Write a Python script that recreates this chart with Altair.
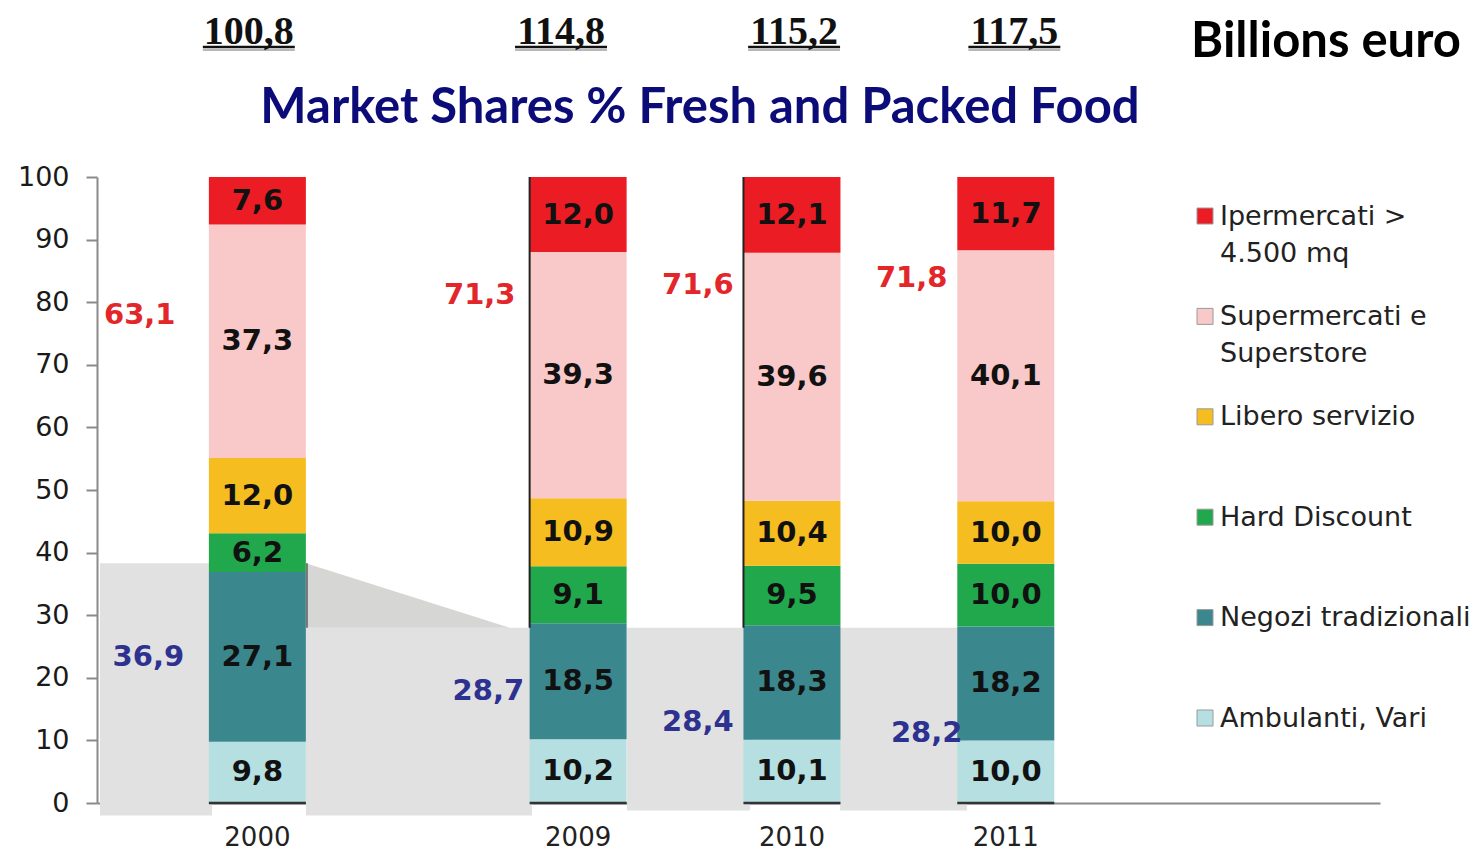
import altair as alt
import pandas as pd

# ---------------- data ----------------
years = ["2000", "2009", "2010", "2011"]
categories = [
    "Ambulanti, Vari",
    "Negozi tradizionali",
    "Hard Discount",
    "Libero servizio",
    "Supermercati e Superstore",
    "Ipermercati > 4.500 mq",
]
legend_labels = [
    "Ambulanti, Vari",
    "Negozi tradizionali",
    "Hard Discount",
    "Libero servizio",
    "Supermercati e\nSuperstore",
    "Ipermercati >\n4.500 mq",
]
ambulanti = [9.8, 10.2, 10.1, 10.0]
negozi = [27.1, 18.5, 18.3, 18.2]
hard_discount = [6.2, 9.1, 9.5, 10.0]
libero_servizio = [12.0, 10.9, 10.4, 10.0]
supermercati = [37.3, 39.3, 39.6, 40.1]
ipermercati = [7.6, 12.0, 12.1, 11.7]
modern_share = [63.1, 71.3, 71.6, 71.8]
traditional_share = [36.9, 28.7, 28.4, 28.2]
market_billions = [100.8, 114.8, 115.2, 117.5]
y_ticks = list(range(0, 101, 10))

title_text = "Market Shares % Fresh and Packed Food"
unit_text = "Billions euro"

# ---------------- layout / style ----------------
W, H = 1283, 626
X_MAX = 6.0
PX = W / X_MAX
UY = H / 100.0
slot = [0.75, 2.25, 3.25, 4.25]          # horizontal slot of each year's bar
HALF = 48.5 / PX                          # half bar width in x units
colors = ["#b5dfe0", "#3a878d", "#22a84c", "#f5bd1f", "#f9c8c8", "#ec1c24"]

red_dx = [-0.55, -0.46, -0.44, -0.44]
red_y = [78.0, 81.2, 82.7, 83.9]
blue_dx = [-0.51, -0.42, -0.44, -0.37]
blue_y = [23.3, 17.9, 12.9, 11.2]
total_dx = [-0.04, -0.08, 0.01, 0.04]

# decorative grey connector band (x, x2, y, y2 in scale units)
band_x = [0.014, 0.977, 2.479, 3.475]
band_x2 = [0.538, 2.034, 3.054, 4.069]
band_y = [-2.0, -2.0, -1.2, -1.2]
band_y2 = [38.3, 28.0, 28.0, 28.0]
trap_x = [0.977, 1.93]
trap_y = [38.3, 28.0]
# thin edge lines left over around the bars
edge_x = [slot[1] - HALF, slot[2] - HALF, slot[0] + HALF + 0.005]
edge_y = [28.0, 28.0, 28.0]
edge_y2 = [100.0, 100.0, 38.3]
edge_c = ["#222222", "#222222", "#777777"]

xs = alt.Scale(domain=[0, X_MAX], nice=False, zero=False)
ys = alt.Scale(domain=[0, 100], nice=False, zero=False)

FONT = "DejaVu Sans"

XA = alt.Axis(labels=False, ticks=False, grid=False, title=None,
              domainColor="#8a8a8a", domainWidth=2)
YA = alt.Axis(values=y_ticks, grid=False, title=None, labelFont=FONT,
              labelFontSize=27, labelColor="#1a1a1a", labelPadding=17,
              tickSize=11, tickColor="#8a8a8a", tickWidth=2,
              domainColor="#8a8a8a", domainWidth=2)


def X(field):
    return alt.X(field, scale=xs, axis=XA)


def Y(field):
    return alt.Y(field, scale=ys, axis=YA)


# ---------------- tables ----------------
series = [ambulanti, negozi, hard_discount, libero_servizio, supermercati, ipermercati]
rows = []
for i, yr in enumerate(years):
    for k, (cat, vals) in enumerate(zip(categories, series)):
        rows.append({"year": yr, "slot": slot[i], "category": cat, "k": k, "value": vals[i]})
df = pd.DataFrame(rows)

ann = pd.DataFrame({
    "year": years,
    "slot": slot,
    "modern": modern_share,
    "trad": traditional_share,
    "total": market_billions,
    "rdx": red_dx, "ry": red_y,
    "bdx": blue_dx, "by": blue_y,
    "tdx": total_dx,
    "zero": [0.0] * 4,
})

band = pd.DataFrame({"x": band_x, "x2": band_x2, "y": band_y, "y2": band_y2})
trap = pd.DataFrame({"x": trap_x, "y": trap_y, "y2": [28.0, 28.0]})
edges = pd.DataFrame({"x": edge_x, "y": edge_y, "y2": edge_y2, "c": edge_c})
leg = pd.DataFrame({"category": categories, "label": legend_labels, "k": list(range(6))})

# ---------------- layers ----------------
band_layer = alt.Chart(band).mark_rect(color="#e1e1e1").encode(
    x=X("x:Q"), x2="x2:Q", y=Y("y:Q"), y2="y2:Q",
)

trap_layer = alt.Chart(trap).mark_area(color="#d6d6d4").encode(
    x=X("x:Q"), y=Y("y:Q"), y2="y2:Q",
)

base = alt.Chart(df).transform_stack(
    stack="value", groupby=["year"], as_=["y0", "y1"],
    sort=[alt.SortField("k", order="ascending")],
).transform_calculate(
    xl=f"datum.slot - {HALF}",
    xr=f"datum.slot + {HALF}",
    ym="(datum.y0 + datum.y1) / 2",
    lab="replace(format(datum.value, '.1f'), '.', ',')",
)

bars = base.mark_rect().encode(
    x=X("xl:Q"), x2="xr:Q", y=Y("y0:Q"), y2="y1:Q",
    color=alt.Color("category:N", scale=alt.Scale(domain=categories, range=colors), legend=None),
)

bar_text = base.mark_text(font=FONT, fontSize=29, fontWeight="bold", color="#111111").encode(
    x=X("slot:Q"), y=Y("ym:Q"), text="lab:N",
)

edge_layer = alt.Chart(edges).mark_rule(strokeWidth=2).encode(
    x=X("x:Q"), y=Y("y:Q"), y2="y2:Q", color=alt.Color("c:N", scale=None),
)

abase = alt.Chart(ann).transform_calculate(
    rx="datum.slot + datum.rdx",
    bx="datum.slot + datum.bdx",
    tx="datum.slot + datum.tdx",
    ul="datum.slot + datum.tdx - 0.215",
    ur="datum.slot + datum.tdx + 0.215",
    bl=f"datum.slot - {HALF}",
    br=f"datum.slot + {HALF}",
    mlab="replace(format(datum.modern, '.1f'), '.', ',')",
    tlab="replace(format(datum.trad, '.1f'), '.', ',')",
    totlab="replace(format(datum.total, '.1f'), '.', ',')",
)

base_rules = abase.mark_rule(color="#333333", strokeWidth=2.5).encode(
    x=X("bl:Q"), x2="br:Q", y=Y("zero:Q"),
)

red_text = abase.mark_text(font=FONT, fontSize=29, fontWeight="bold", color="#e3262a").encode(
    x=X("rx:Q"), y=Y("ry:Q"), text="mlab:N",
)

blue_text = abase.mark_text(font=FONT, fontSize=29, fontWeight="bold", color="#2d3190").encode(
    x=X("bx:Q"), y=Y("by:Q"), text="tlab:N",
)

year_text = abase.mark_text(font=FONT, fontSize=26, color="#222222").encode(
    x=X("slot:Q"), y=alt.value(H + 35), text="year:N",
)

# market size in billions: baseline placed so the text box stays inside the canvas
total_text = abase.mark_text(font="Liberation Serif", fontSize=40, fontWeight="bold",
                             color="#111111", baseline="alphabetic").encode(
    x=X("tx:Q"), y=alt.value(-133), text="totlab:N",
)

total_shadow = abase.mark_rule(color="#b8b8b8", strokeWidth=2).encode(
    x=X("ul:Q"), x2="ur:Q", y=alt.value(-127),
)
total_underline = abase.mark_rule(color="#111111", strokeWidth=2.5).encode(
    x=X("ul:Q"), x2="ur:Q", y=alt.value(-130),
)

title_layer = alt.Chart(pd.DataFrame({"t": [title_text]})).mark_text(
    font="Lato", fontSize=49, fontWeight="bold", color="#0c0c78"
).encode(x=alt.value(603), y=alt.value(-69), text="t:N")

unit_layer = alt.Chart(pd.DataFrame({"t": [unit_text]})).mark_text(
    font="Lato", fontSize=49, fontWeight="bold", color="#000000", baseline="alphabetic"
).encode(x=alt.value(1229), y=alt.value(-120), text="t:N")

legbase = alt.Chart(leg).transform_calculate(
    ly=f"(587 - (5 - datum.k) * 100.4) / {UY}",
    ty=f"(587 - (5 - datum.k) * 100.4 + 12.5) / {UY}",
)
leg_sym = legbase.mark_square(size=256, strokeWidth=1, stroke="#9a9a9a", opacity=1).encode(
    x=alt.value(1108),
    y=Y("ly:Q"),
    fill=alt.Color("category:N", scale=alt.Scale(domain=categories, range=colors), legend=None),
)
leg_txt = legbase.mark_text(font=FONT, fontSize=27, align="left", baseline="top",
                            lineBreak="\n", lineHeight=37, color="#222222").encode(
    x=alt.value(1123),
    y=Y("ty:Q"),
    text="label:N",
)

chart = alt.layer(
    band_layer, trap_layer, bars, edge_layer, base_rules, bar_text, red_text, blue_text,
    year_text, total_shadow, total_underline, total_text, title_layer, unit_layer,
    leg_sym, leg_txt,
).properties(
    width=W, height=H,
    autosize=alt.AutoSizeParams(type="none"),
    padding={"left": 89, "top": 169, "right": 92, "bottom": 50},
).configure_view(stroke=None)

chart.save("out.html", embed_options={"renderer": "svg", "actions": False})
